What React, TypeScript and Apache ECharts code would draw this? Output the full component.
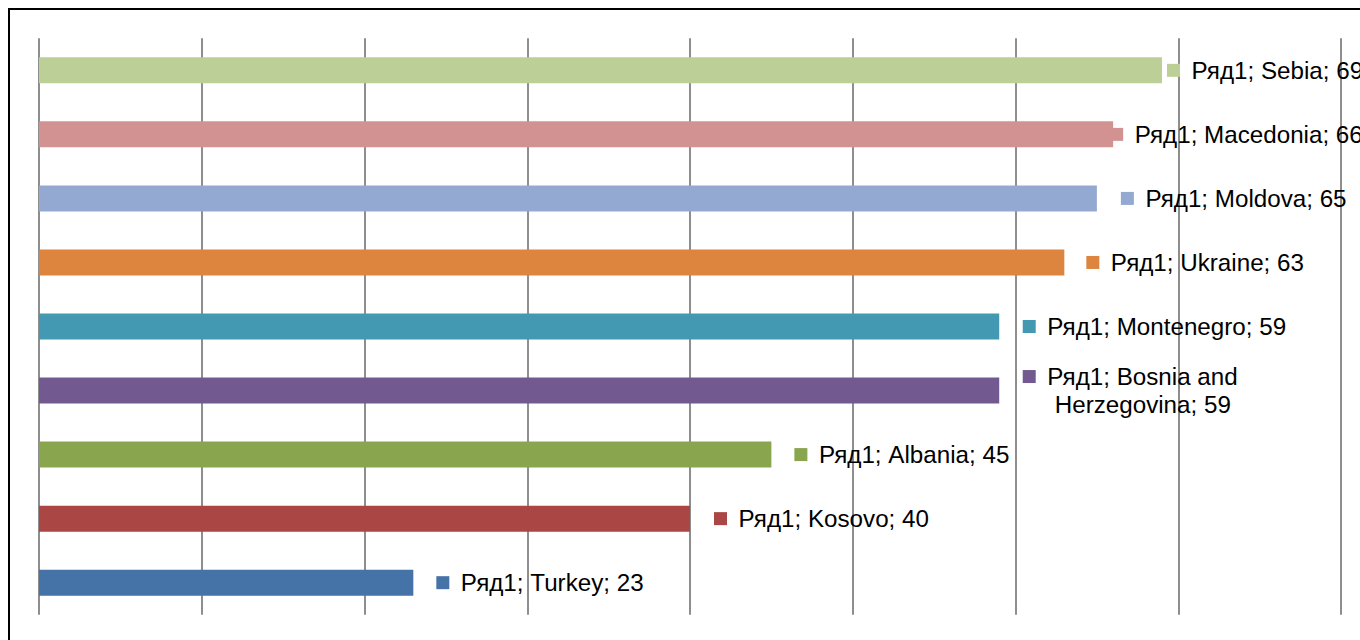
import React, { useEffect, useRef } from "react";
import * as echarts from "echarts";

const seriesName = "Ряд1";
const categories = [
  "Sebia",
  "Macedonia",
  "Moldova",
  "Ukraine",
  "Montenegro",
  "Bosnia and Herzegovina",
  "Albania",
  "Kosovo",
  "Turkey",
];
const values = [69, 66, 65, 63, 59, 59, 45, 40, 23];
const colors = [
  "#BBCF97",
  "#D39292",
  "#93A9D1",
  "#DD843E",
  "#4399B1",
  "#725A91",
  "#89A54E",
  "#AA4644",
  "#4573A7",
];
// label distance from bar end (layout, not data)
const labelDistances = [5, -3, 24, 22, 23.5, 23.5, 23, 24, 23];

const FONT = "'Liberation Sans', Arial, sans-serif";
const FONT_SIZE = 24.2;

export default function App() {
  const ref = useRef<HTMLDivElement>(null);

  useEffect(() => {
    if (!ref.current) return;
    const chart = echarts.init(ref.current, undefined, { renderer: "svg" });

    const rich: Record<string, any> = {
      t: {
        fontFamily: FONT,
        fontSize: FONT_SIZE,
        color: "#000",
        lineHeight: 28,
        padding: [0, 0, 0, 11.5],
        verticalAlign: "middle",
      },
      t2: {
        fontFamily: FONT,
        fontSize: FONT_SIZE,
        color: "#000",
        lineHeight: 28,
        padding: [0, 0, 0, 32],
        verticalAlign: "middle",
      },
    };
    colors.forEach((c, i) => {
      rich["m" + i] = {
        width: 13,
        height: 13,
        backgroundColor: c,
        verticalAlign: "middle",
      };
    });

    const formatLabel = (p: any) => {
      const i = p.dataIndex;
      const name: string = categories[i];
      const idx = name.indexOf(" and ");
      if (idx >= 0) {
        const first = name.slice(0, idx + 4);
        const rest = name.slice(idx + 5);
        return `{m${i}|}{t|${seriesName}; ${first}}\n{t2|${rest}; ${values[i]}}`;
      }
      return `{m${i}|}{t|${seriesName}; ${name}; ${values[i]}}`;
    };

    chart.setOption({
      animation: false,
      grid: { left: 29, top: 28.3, width: 1302, height: 576.4, containLabel: false },
      xAxis: {
        type: "value",
        min: 0,
        max: 80,
        interval: 10,
        axisLabel: { show: false },
        axisLine: { show: false },
        axisTick: { show: false },
        splitLine: { show: true, lineStyle: { color: "#8E8E8E", width: 2 } },
      },
      yAxis: {
        type: "category",
        data: categories,
        inverse: true,
        axisLabel: { show: false },
        axisLine: { show: false },
        axisTick: { show: false },
        splitLine: { show: false },
      },
      series: [
        {
          type: "bar",
          name: seriesName,
          barWidth: 26,
          data: values.map((v, i) => ({
            value: v,
            itemStyle: { color: colors[i] },
            label: { distance: labelDistances[i] },
          })),
          label: {
            show: true,
            position: "right",
            formatter: formatLabel,
            rich,
            fontFamily: FONT,
            fontSize: FONT_SIZE,
            color: "#000",
            align: "left",
            verticalAlign: "middle",
          },
        },
      ],
    });

    return () => chart.dispose();
  }, []);

  return (
    <div
      style={{
        position: "fixed",
        left: 8,
        top: 8,
        right: 0,
        bottom: 0,
        overflow: "hidden",
        background: "#fff",
      }}
    >
      <div
        style={{
          border: "2px solid #000",
          width: 1440,
          height: 720,
          background: "#fff",
        }}
      >
        <div ref={ref} style={{ width: 1440, height: 720 }} />
      </div>
    </div>
  );
}
